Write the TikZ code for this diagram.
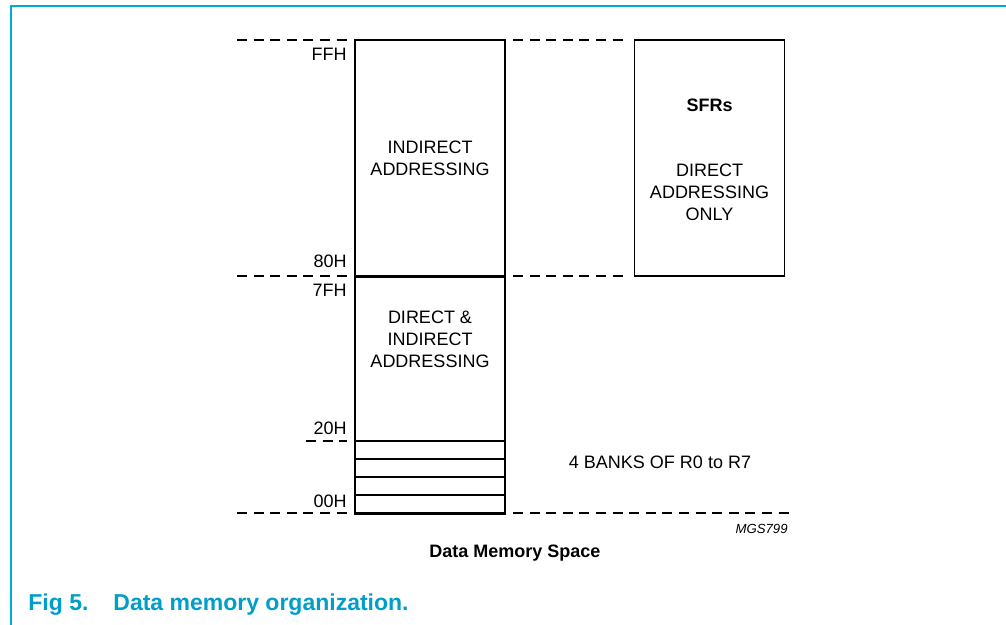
\documentclass[tikz,border=0pt]{standalone}
\usepackage{fontspec}
\setmainfont{Liberation Sans}
\usetikzlibrary{positioning}
\definecolor{figblue}{RGB}{0,158,200}
\definecolor{framecyan}{RGB}{0,172,212}

\begin{document}
\begin{tikzpicture}[x=0.5pt,y=-0.5pt,
	mem/.style={draw,line width=0.8pt,minimum width=75pt,inner sep=0pt},
	bank/.style={mem,minimum height=9pt},
	guide/.style={line width=0.8pt,dash pattern=on 5pt off 3.3pt},
	addr/.style={anchor=base east,inner sep=0pt,font=\fontsize{9}{11}\selectfont},
	txt/.style={align=center,inner sep=0pt,font=\fontsize{9}{11}\selectfont}]
	\useasboundingbox (0,0) rectangle (1006,625);
	\draw[color=framecyan,line width=0.9pt] (11,625)--(11,6)--(1006,6);
	% memory blocks
	\node[mem,minimum height=118pt] (indirect) at (430,158) {};
	\node[mem,minimum height=118.5pt,anchor=north] (direct) at (indirect.south) {};
	\node[mem,minimum height=118pt] (sfr) at (709.5,158) {};
	\foreach \i in {0,...,3}
		\node[bank] (bank\i) at (430,504-\i*18) {};
	% dashed guides
	\foreach \y in {40,276} {
		\draw[guide] (237,\y)--(347,\y);
		\draw[guide] (513,\y)--(624,\y);
	}
	\draw[guide] (237,513)--(347,513);
	\draw[guide] (513,513)--(790,513);
	\draw[guide] (306,441)--(347,441);
	% addresses
	\node[addr] (ffh) at (347,61) {FFH};
	\node[addr] (h80) at (347,268) {80H};
	\node[addr] (h7f) at (347,297) {7FH};
	\node[addr] (h20) at (347,435) {20H};
	\node[addr] (h00) at (347,507) {00H};
	% texts (base = last line)
	\node[txt,anchor=base] (indtext) at (430,176) {INDIRECT\\ADDRESSING};
	\node[txt,anchor=base] (dirtext) at (430,368) {DIRECT \&\\INDIRECT\\ADDRESSING};
	\node[txt,anchor=base] (sfrtext) at (709.5,221) {\textbf{SFRs}\\[21.5pt]DIRECT\\ADDRESSING\\ONLY};
	\node[txt,anchor=base] (banks) at (660,468) {4 BANKS OF R0 to R7};
	\node[anchor=base east,inner sep=0pt,font=\fontsize{6.6}{8}\selectfont\itshape] (code) at (788,533) {MGS799};
	\node[anchor=base,inner sep=0pt,font=\fontsize{9}{11}\selectfont\bfseries] (title) at (515,557) {Data Memory Space};
	\node[anchor=base west,inner sep=0pt,color=figblue,font=\fontsize{11.5}{13}\selectfont\bfseries] (fig) at (28,610) {Fig 5.};
	\node[anchor=base west,inner sep=0pt,color=figblue,font=\fontsize{11.5}{13}\selectfont\bfseries] (caption) at (113,610) {Data memory organization.};
\end{tikzpicture}
\end{document}
